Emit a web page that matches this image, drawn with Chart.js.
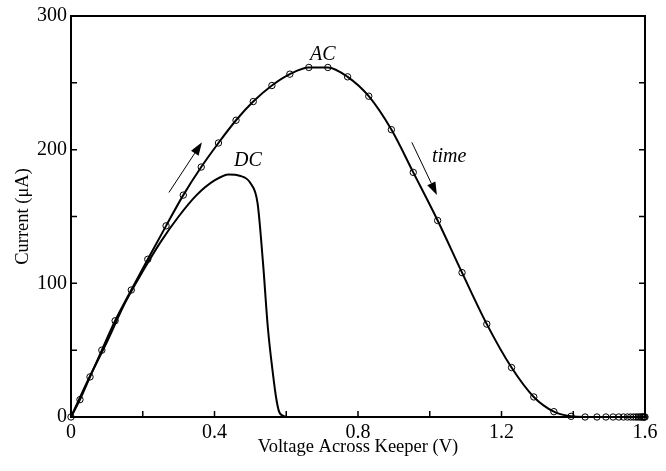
<!DOCTYPE html>
<html>
<head>
<meta charset="utf-8">
<script src="https://cdn.jsdelivr.net/npm/chart.js@4/dist/chart.umd.min.js"></script>
<style>
  html, body { margin: 0; padding: 0; background: #fff; }
</style>
</head>
<body>
<canvas id="canvas_iv" width="666" height="471"></canvas>
<script>
// AC sweep (circle markers), voltage in V, current in uA
var ac_volts = [0, 0.025, 0.053, 0.086, 0.123, 0.168, 0.214, 0.265, 0.313, 0.363, 0.411, 0.46,
  0.508, 0.56, 0.61, 0.663, 0.716, 0.771, 0.83, 0.893, 0.954, 1.022, 1.09, 1.159, 1.228,
  1.29, 1.346, 1.394, 1.433, 1.466, 1.491, 1.511, 1.527, 1.54, 1.551, 1.56, 1.568, 1.575,
  1.581, 1.586, 1.59, 1.593, 1.596, 1.598, 1.6];
var ac_current = [0, 13, 30, 50, 72, 95, 118, 143, 166, 187, 205, 222,
  236, 248, 256.5, 261.5, 261.5, 254.5, 240, 215, 183, 147, 108, 69.5, 37,
  15, 4, 0.5, 0, 0, 0, 0, 0, 0, 0, 0, 0, 0,
  0, 0, 0, 0, 0, 0, 0];

// DC sweep (plain line)
var dc_volts = [0, 0.05, 0.1, 0.15, 0.2, 0.25, 0.3, 0.35, 0.4, 0.44, 0.47, 0.5, 0.52,
  0.535, 0.549, 0.563, 0.572, 0.58, 0.59, 0.602, 0.63];
var dc_current = [0, 29, 56, 85, 109, 131, 150, 166, 177, 181.5, 180.5, 175, 160,
  116, 66, 32, 14, 4, 1, 0, 0];

var x_ticks_labelled = [0, 0.4, 0.8, 1.2, 1.6];
var y_ticks_labelled = [0, 100, 200, 300];

// text + arrows in data coordinates
var notes = [
  { text: "AC", x: 0.702, y: 271 },
  { text: "DC", x: 0.493, y: 192 },
  { text: "time", x: 1.054, y: 195 }
];
var arrows = [
  { from: [0.273, 168], to: [0.365, 205.5] },
  { from: [0.95, 205.5], to: [1.02, 166] }
];

function toPoints(xs, ys) {
  var pts = [];
  for (var i = 0; i < xs.length; i++) pts.push({ x: xs[i], y: ys[i] });
  return pts;
}

function isLabelled(v, list) {
  for (var i = 0; i < list.length; i++) {
    if (Math.abs(v - list[i]) < 1e-6) return true;
  }
  return false;
}

var SERIF = "'Liberation Serif', 'Times New Roman', serif";

// frame, inward ticks, arrows and labels
var framePlugin = {
  id: 'frame',
  afterDraw: function(chart) {
    var ctx = chart.ctx;
    var a = chart.chartArea;
    var xs = chart.scales.x, ys = chart.scales.y;
    ctx.save();
    ctx.strokeStyle = '#000';
    ctx.lineWidth = 1.5;
    ctx.beginPath();
    xs.ticks.forEach(function(t) {
      var px = xs.getPixelForValue(t.value);
      ctx.moveTo(px, a.bottom); ctx.lineTo(px, a.bottom - 6);
    });
    ys.ticks.forEach(function(t) {
      var py = ys.getPixelForValue(t.value);
      ctx.moveTo(a.left, py); ctx.lineTo(a.left + 6, py);
      ctx.moveTo(a.right, py); ctx.lineTo(a.right - 6, py);
    });
    ctx.stroke();
    ctx.lineWidth = 2;
    ctx.strokeRect(a.left, a.top, a.right - a.left, a.bottom - a.top);

    // arrows
    arrows.forEach(function(ar) {
      var x1 = xs.getPixelForValue(ar.from[0]), y1 = ys.getPixelForValue(ar.from[1]);
      var x2 = xs.getPixelForValue(ar.to[0]), y2 = ys.getPixelForValue(ar.to[1]);
      var ang = Math.atan2(y2 - y1, x2 - x1);
      var hl = 13, hw = 4.5;
      var bx = x2 - hl * Math.cos(ang), by = y2 - hl * Math.sin(ang);
      ctx.lineWidth = 1;
      ctx.beginPath();
      ctx.moveTo(x1, y1); ctx.lineTo(bx, by);
      ctx.stroke();
      ctx.beginPath();
      ctx.moveTo(x2, y2);
      ctx.lineTo(bx + hw * Math.sin(ang), by - hw * Math.cos(ang));
      ctx.lineTo(bx - hw * Math.sin(ang), by + hw * Math.cos(ang));
      ctx.closePath();
      ctx.fillStyle = '#000';
      ctx.fill();
    });

    ctx.font = "italic 20px " + SERIF;
    ctx.fillStyle = '#000';
    ctx.textAlign = 'center';
    ctx.textBaseline = 'middle';
    notes.forEach(function(n) {
      ctx.fillText(n.text, xs.getPixelForValue(n.x), ys.getPixelForValue(n.y));
    });
    ctx.restore();
  }
};

function drawIV() {
  var ctx = document.getElementById("canvas_iv");
  var chart = new Chart(ctx, {
    type: 'line',
    data: {
      datasets: [
        {
          label: 'AC',
          data: toPoints(ac_volts, ac_current),
          borderColor: '#000',
          borderWidth: 2,
          pointRadius: 3.2,
          pointBorderWidth: 1,
          pointBorderColor: '#000',
          pointBackgroundColor: 'rgba(0,0,0,0)',
          cubicInterpolationMode: 'monotone',
          fill: false,
          clip: false
        },
        {
          label: 'DC',
          data: toPoints(dc_volts, dc_current),
          borderColor: '#000',
          borderWidth: 2,
          pointRadius: 0,
          cubicInterpolationMode: 'monotone',
          fill: false,
          clip: false
        }
      ]
    },
    options: {
      responsive: false,
      devicePixelRatio: 1,
      animation: false,
      layout: { padding: { top: 11, right: 21, left: 0, bottom: 0 } },
      plugins: {
        legend: { display: false },
        tooltip: { enabled: false }
      },
      scales: {
        x: {
          type: 'linear',
          min: 0,
          max: 1.6,
          afterFit: function(s) { s.height = 54; },
          border: { display: false },
          grid: { display: false, drawTicks: false },
          ticks: {
            stepSize: 0.2,
            autoSkip: false,
            maxRotation: 0,
            padding: 4,
            color: '#000',
            font: { family: SERIF, size: 20 },
            callback: function(v) {
              return isLabelled(v, x_ticks_labelled) ? String(+v.toFixed(1)) : '';
            }
          },
          title: {
            display: true,
            text: 'Voltage Across Keeper (V)',
            color: '#000',
            font: { family: SERIF, size: 18.5 },
            padding: { top: 0, bottom: 13 }
          }
        },
        y: {
          type: 'linear',
          min: 0,
          max: 300,
          afterFit: function(s) { s.width = 71; },
          border: { display: false },
          grid: { display: false, drawTicks: false },
          ticks: {
            stepSize: 50,
            padding: 4,
            color: '#000',
            font: { family: SERIF, size: 20 },
            callback: function(v) {
              return isLabelled(v, y_ticks_labelled) ? String(v) : '';
            }
          },
          title: {
            display: true,
            text: 'Current (\u03bcA)',
            color: '#000',
            font: { family: SERIF, size: 18.5 },
            padding: { top: 12, bottom: 0 }
          }
        }
      }
    },
    plugins: [framePlugin]
  });
}

drawIV();
</script>
</body>
</html>
